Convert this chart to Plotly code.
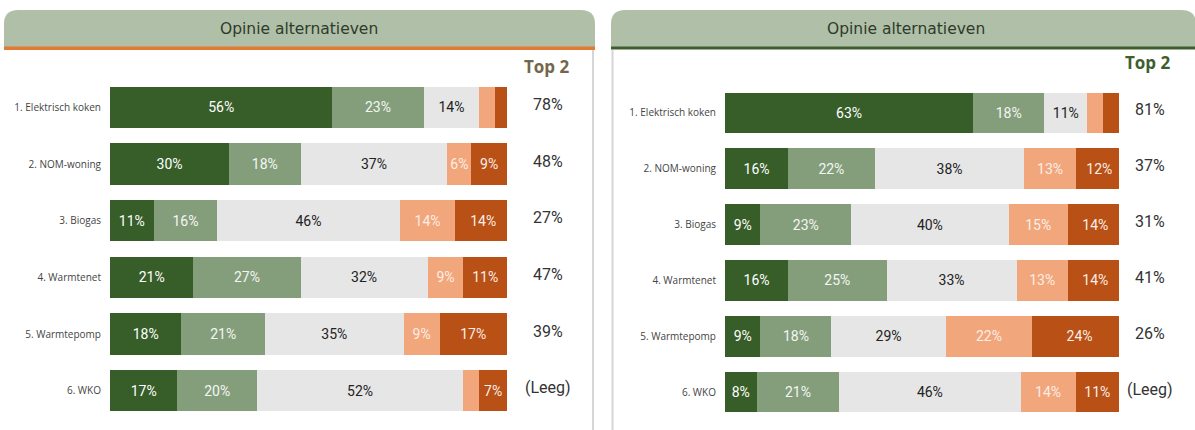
import plotly.graph_objects as go

categories = ["1. Elektrisch koken", "2. NOM-woning", "3. Biogas",
              "4. Warmtenet", "5. Warmtepomp", "6. WKO"]

# left panel, percentages per answer group
left_vals = {
    "zeer positief": [56, 30, 11, 21, 18, 17],
    "positief": [23, 18, 16, 27, 21, 20],
    "neutraal": [14, 37, 46, 32, 35, 52],
    "negatief": [4, 6, 14, 9, 9, 4],
    "zeer negatief": [3, 9, 14, 11, 17, 7],
}
left_top2 = ["78%", "48%", "27%", "47%", "39%", "(Leeg)"]

# right panel
right_vals = {
    "zeer positief": [63, 16, 9, 16, 9, 8],
    "positief": [18, 22, 23, 25, 18, 21],
    "neutraal": [11, 38, 40, 33, 29, 46],
    "negatief": [4, 13, 15, 13, 22, 14],
    "zeer negatief": [4, 12, 14, 14, 24, 11],
}
right_top2 = ["81%", "37%", "31%", "41%", "26%", "(Leeg)"]

colors = {
    "zeer positief": "#375e28",
    "positief": "#849e7c",
    "neutraal": "#e6e6e6",
    "negatief": "#f1a67b",
    "zeer negatief": "#b95016",
}
text_colors = {
    "zeer positief": "white",
    "positief": "#f4f6f2",
    "neutraal": "#222222",
    "negatief": "#fdeee5",
    "zeer negatief": "#fbeee6",
}

W, H = 1195, 430


def px(x):
    return x / W


def py(y):
    return 1 - y / H


fig = go.Figure()

for vals, xa, ya in [(left_vals, "x", "y"), (right_vals, "x2", "y2")]:
    for name, v in vals.items():
        fig.add_trace(go.Bar(
            y=categories, x=v, orientation="h", name=name,
            xaxis=xa, yaxis=ya,
            marker=dict(color=colors[name], line=dict(width=0)),
            text=[f"{n}%" if n >= 5 else "" for n in v],
            textposition="inside", insidetextanchor="middle", textangle=0,
            textfont=dict(family="Roboto", size=14, color=text_colors[name]),
            showlegend=False, hoverinfo="skip",
        ))

axis_common = dict(showgrid=False, zeroline=False, showline=False)
fig.update_layout(
    width=W, height=H,
    margin=dict(l=0, r=0, t=0, b=0),
    paper_bgcolor="white", plot_bgcolor="white",
    barmode="stack",
    bargap=0.27,
    uniformtext=dict(minsize=14, mode="show"),
    xaxis=dict(domain=[px(110), px(507)], range=[0, 100], showticklabels=False,
               anchor="y", **axis_common),
    yaxis=dict(domain=[py(419), py(79)], autorange="reversed", anchor="x",
               ticklabelstandoff=8,
               tickfont=dict(family="Open Sans", size=10, color="#444444"),
               **axis_common),
    xaxis2=dict(domain=[px(725), px(1119)], range=[0, 100], showticklabels=False,
                anchor="y2", **axis_common),
    yaxis2=dict(domain=[py(420), py(85)], autorange="reversed", anchor="x2",
                ticklabelstandoff=8,
                tickfont=dict(family="Open Sans", size=10, color="#444444"),
                **axis_common),
)


def header_path(x0, x1, y0, y1, r=14):
    rx, ry = r / W, r / H
    X0, X1, Y0, Y1 = px(x0), px(x1), py(y1), py(y0)
    return (f"M {X0},{Y0} L {X0},{Y1 - ry} Q {X0},{Y1} {X0 + rx},{Y1} "
            f"L {X1 - rx},{Y1} Q {X1},{Y1} {X1},{Y1 - ry} L {X1},{Y0} Z")


shapes = [
    dict(type="path", path=header_path(4, 595, 10, 47), xref="paper", yref="paper",
         fillcolor="#b0c0a8", line=dict(width=0), layer="below"),
    dict(type="path", path=header_path(611, 1196, 10, 47), xref="paper", yref="paper",
         fillcolor="#b0c0a8", line=dict(width=0), layer="below"),
    dict(type="rect", x0=px(4), x1=px(595), y0=py(50), y1=py(46.5), xref="paper",
         yref="paper", fillcolor="#e07a35", line=dict(width=0)),
    dict(type="rect", x0=px(611), x1=px(1196), y0=py(49.5), y1=py(46.5), xref="paper",
         yref="paper", fillcolor="#3e5e2e", line=dict(width=0)),
    dict(type="line", x0=px(593), x1=px(593), y0=py(50), y1=0, xref="paper",
         yref="paper", line=dict(color="#d6d6d6", width=2)),
    dict(type="line", x0=px(612.5), x1=px(612.5), y0=py(50), y1=0, xref="paper",
         yref="paper", line=dict(color="#d6d6d6", width=2)),
]

header_font = dict(family="DejaVu Sans", size=15.5, color="#2f3a2a")
annotations = [
    dict(text="Opinie alternatieven", x=px(299), y=py(29), font=header_font),
    dict(text="Opinie alternatieven", x=px(906), y=py(29), font=header_font),
    dict(text="<b>Top 2</b>", x=px(547), y=py(66),
         font=dict(family="Open Sans", size=17, color="#74664a")),
    dict(text="<b>Top 2</b>", x=px(1148), y=py(62),
         font=dict(family="Open Sans", size=17, color="#3e5e2e")),
]
for a in annotations:
    a.update(xref="paper", yref="paper", showarrow=False,
             xanchor="center", yanchor="middle")

for cat, t in zip(categories, left_top2):
    annotations.append(dict(text=t, x=px(548), y=cat, xref="paper", yref="y",
                            xanchor="center", yanchor="middle",
                            yshift=3, showarrow=False,
                            font=dict(family="Roboto", size=16, color="#333333")))
for cat, t in zip(categories, right_top2):
    annotations.append(dict(text=t, x=px(1150), y=cat, xref="paper", yref="y2",
                            xanchor="center", yanchor="middle",
                            yshift=3, showarrow=False,
                            font=dict(family="Roboto", size=16, color="#333333")))

fig.update_layout(shapes=shapes, annotations=annotations)

# the page body has a default 8px margin; drop it so the figure sits at 0,0
fig.write_html("out.html", config={"displayModeBar": False},
               post_script="document.body.style.margin='0';")
